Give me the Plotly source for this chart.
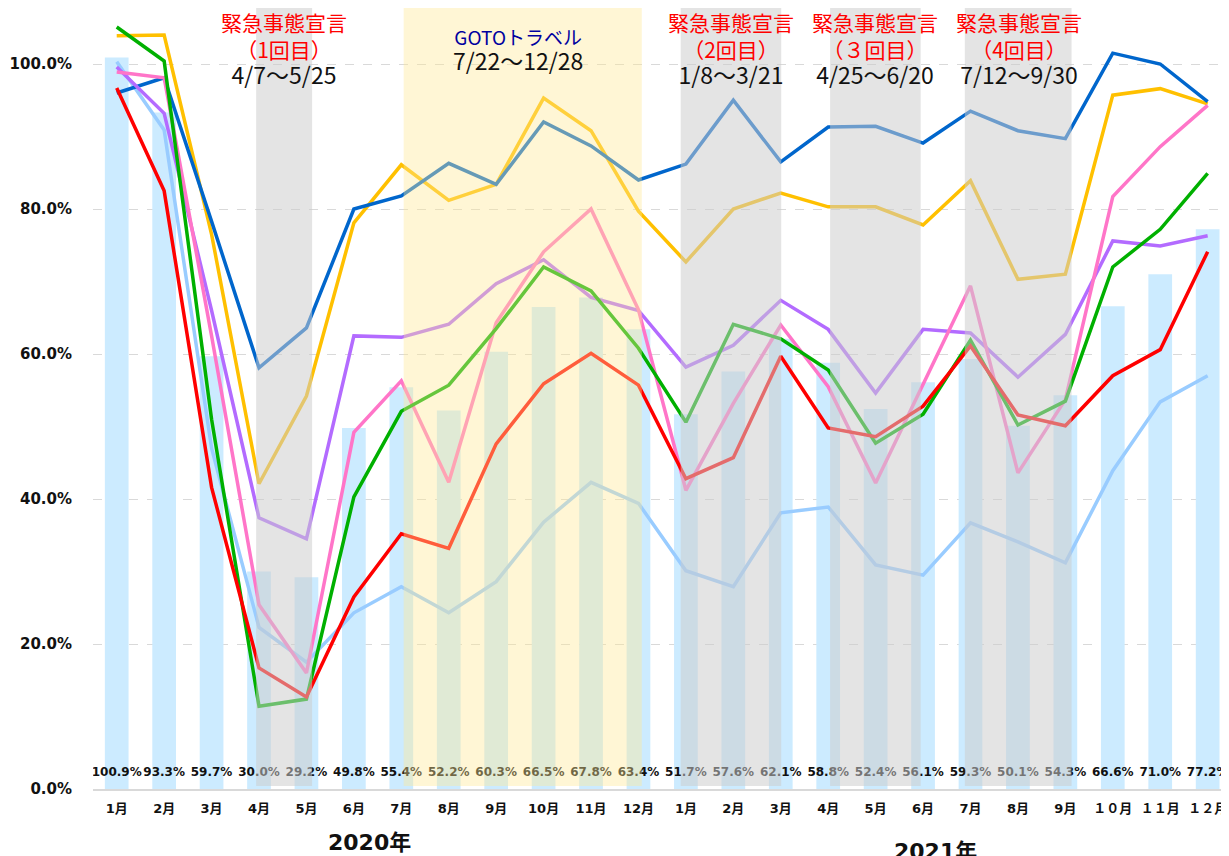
import plotly.graph_objects as go

months = ["1月", "2月", "3月", "4月", "5月", "6月", "7月", "8月", "9月", "10月", "11月", "12月",
          "1月", "2月", "3月", "4月", "5月", "6月", "7月", "8月", "9月", "１０月", "１１月", "１２月"]
x_idx = list(range(len(months)))

bar_values = [100.9, 93.3, 59.7, 30.0, 29.2, 49.8, 55.4, 52.2, 60.3, 66.5, 67.8, 63.4,
              51.7, 57.6, 62.1, 58.8, 52.4, 56.1, 59.3, 50.1, 54.3, 66.6, 71.0, 77.2]

light_blue = [100.3, 90.9, 47.0, 22.3, 17.5, 24.3, 27.9, 24.3, 28.6, 36.8, 42.3, 39.4,
              30.1, 27.9, 38.1, 38.9, 30.9, 29.5, 36.7, 34.1, 31.2, 43.9, 53.4, 57.0]
yellow = [103.9, 104.0, 76.5, 42.1, 54.2, 78.1, 86.1, 81.2, 83.4, 95.3, 90.8, 79.7,
          72.7, 80.0, 82.2, 80.3, 80.3, 77.8, 83.9, 70.3, 71.0, 95.7, 96.6, 94.5]
blue = [96.0, 98.1, 78.3, 58.1, 63.6, 80.0, 81.8, 86.3, 83.4, 92.0, 88.7, 84.0,
        86.2, 95.0, 86.5, 91.3, 91.4, 89.1, 93.5, 90.8, 89.7, 101.5, 100.0, 94.8]
purple = [99.6, 93.2, 66.0, 37.4, 34.5, 62.5, 62.3, 64.1, 69.7, 73.0, 67.8, 66.0,
          58.2, 61.2, 67.4, 63.4, 54.6, 63.4, 62.9, 56.8, 62.7, 75.6, 74.9, 76.3]
pink = [98.9, 98.1, 62.5, 25.4, 16.0, 49.2, 56.3, 42.3, 64.3, 74.1, 80.0, 66.1,
        41.2, 53.2, 64.0, 55.5, 42.2, 55.8, 69.4, 43.6, 53.7, 81.7, 88.6, 94.3]
green = [105.1, 100.4, 51.0, 11.4, 12.4, 40.3, 52.1, 55.7, 63.5, 72.0, 68.7, 60.8,
         50.6, 64.1, 62.1, 57.8, 47.7, 51.7, 61.9, 50.2, 53.5, 72.0, 77.2, 84.9]
red = [96.7, 82.5, 41.6, 16.7, 12.7, 26.5, 35.2, 33.2, 47.6, 55.9, 60.1, 55.7,
       42.8, 45.7, 59.7, 49.8, 48.6, 52.8, 61.1, 51.6, 50.1, 57.0, 60.6, 74.1]

series = [
    ("light_blue", light_blue, "#99CCFF"),
    ("yellow", yellow, "#FFC000"),
    ("blue", blue, "#0066CC"),
    ("purple", purple, "#B36BFF"),
    ("pink", pink, "#FF75C8"),
    ("green", green, "#00B000"),
    ("red", red, "#FF0000"),
]

# shaded periods (in category-index units)
periods = [
    (2.94, 4.12, "gray"),
    (6.05, 11.07, "yellow"),
    (11.89, 14.01, "gray"),
    (15.04, 16.95, "gray"),
    (17.88, 20.13, "gray"),
]

period_labels = [
    (3.53, "緊急事態宣言", "（1回目）", "4/7～5/25"),
    (12.96, "緊急事態宣言", "（2回目）", "1/8～3/21"),
    (15.99, "緊急事態宣言", "（３回目）", "4/25～6/20"),
    (19.02, "緊急事態宣言", "（4回目）", "7/12～9/30"),
]
goto_label = (8.46, "GOTOトラベル", "7/22～12/28")

label_y = 2.2
FONT = "DejaVu Sans, Noto Sans CJK JP, sans-serif"
JFONT = "Noto Sans CJK JP, sans-serif"

# page body has an 8px default margin: figure origin sits at (8, 8) in the window
OFF = 8
W, H = 1229 - OFF, 856 - OFF
PLOT_BOTTOM = 789          # window px of the 0% line
PLOT_LEFT = 93             # window px of the plot's left edge
PLOT_H = PLOT_BOTTOM - OFF  # plot top at figure top


def py(ypx):
    return (PLOT_BOTTOM - ypx) / PLOT_H


fig = go.Figure()
fig.add_trace(go.Bar(x=x_idx, y=bar_values, marker=dict(color="#CCEBFF", line=dict(width=0)),
                     width=0.5, showlegend=False, hoverinfo="skip"))
for name, vals, col in series:
    fig.add_trace(go.Scatter(x=x_idx, y=vals, mode="lines", name=name,
                             line=dict(color=col, width=3.5), showlegend=False))
fig.add_trace(go.Scatter(x=x_idx, y=[label_y] * len(x_idx), mode="text",
                         text=[f"{v:.1f}%" for v in bar_values],
                         textfont=dict(family=FONT, size=12, color="#111111", weight="bold"),
                         showlegend=False, hoverinfo="skip"))

for x0, x1, kind in periods:
    if kind == "gray":
        fill = "rgba(204,204,204,0.53)"
    else:
        fill = "rgba(255,232,150,0.40)"
    fig.add_shape(type="rect", xref="x", yref="paper", x0=x0, x1=x1, y0=0.004, y1=1,
                  fillcolor=fill, line=dict(width=0), layer="above")

for xc, head, sub, dates in period_labels:
    txt = (f"<span style='color:#FF0000;font-size:21px'>{head}</span><br>"
           f"<span style='color:#FF0000;font-size:21px'>{sub}</span><br>"
           f"<span style='color:#111111;font-size:23px'>{dates}</span>")
    fig.add_annotation(x=xc, xref="x", y=py(49), yref="paper", text=txt, showarrow=False,
                       font=dict(family=JFONT, size=20.5, color="#111111"),
                       xanchor="center", yanchor="middle", align="center")

gx, ghead, gdates = goto_label
fig.add_annotation(x=gx, xref="x", y=py(50), yref="paper",
                   text=(f"<span style='color:#0000A0;font-size:19px'>{ghead}</span><br>"
                         f"<span style='color:#111111;font-size:23px'>{gdates}</span>"),
                   showarrow=False, font=dict(family=JFONT, size=19.5, color="#111111"),
                   xanchor="center", yanchor="middle", align="center")

for xc, ypx, t in [(5.32, 842, "2020年"), (17.27, 852, "2021年")]:
    fig.add_annotation(x=xc, xref="x", y=py(ypx), yref="paper", text=t,
                       showarrow=False, font=dict(family=FONT, size=22, color="#111111", weight="bold"),
                       xanchor="center", yanchor="middle")

fig.update_layout(
    width=W, height=H,
    margin=dict(l=PLOT_LEFT - OFF, r=0, t=0, b=H - (PLOT_BOTTOM - OFF), autoexpand=False),
    plot_bgcolor="white", paper_bgcolor="white",
    showlegend=False,
    bargap=0.5,
)
fig.update_xaxes(range=[-0.5, 23.45], tickmode="array", tickvals=x_idx, ticktext=months,
                 tickfont=dict(family=FONT, size=13, color="#111111", weight="bold"),
                 showgrid=False, showline=True, linecolor="#D9D9D9", linewidth=2,
                 ticks="", ticklabelstandoff=6, ticklabeloverflow="allow",
                 automargin=False, fixedrange=True)
fig.update_yaxes(range=[0, PLOT_H / 7.25], tickmode="array", tickvals=[0, 20, 40, 60, 80, 100],
                 ticktext=["0.0%", "20.0%", "40.0%", "60.0%", "80.0%", "100.0%"],
                 tickfont=dict(family=FONT, size=15, color="#111111", weight="bold"),
                 showgrid=True, gridcolor="#D9D9D9", griddash="dash", gridwidth=1,
                 zeroline=False, ticks="", ticklabelstandoff=20, automargin=False,
                 fixedrange=True)

fig.write_html("out.html")
